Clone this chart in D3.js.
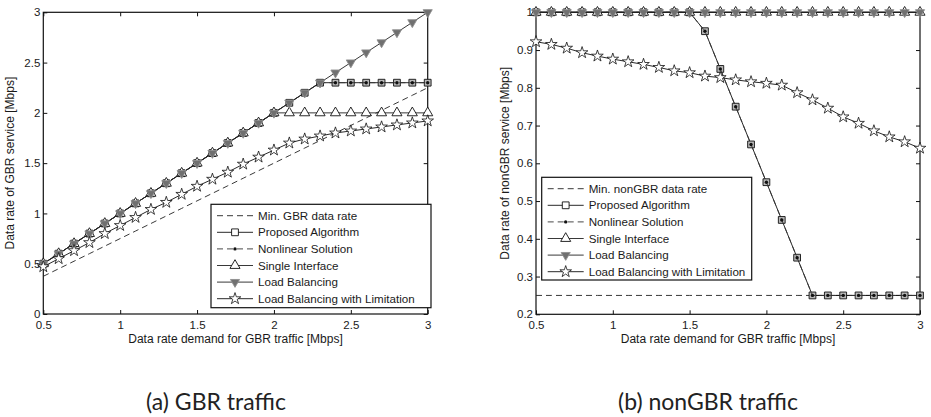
<!DOCTYPE html>
<html>
<head>
<meta charset="utf-8">
<script src="https://cdn.jsdelivr.net/npm/d3@7"></script>
<style>
  html, body { margin: 0; padding: 0; background: #fff; }
  svg { display: block; }
  .tick text { font-family: "Liberation Sans", Arial, sans-serif; font-size: 11.5px; fill: #1a1a1a; }
  .lbl { font-family: "Liberation Sans", Arial, sans-serif; font-size: 12px; fill: #1a1a1a; }
  .leg { font-family: "Liberation Sans", Arial, sans-serif; font-size: 11.6px; fill: #1a1a1a; }
  .cap { font-family: Lato, "Open Sans", sans-serif; font-size: 23px; fill: #222; }
</style>
</head>
<body>
<svg id="fig" width="931" height="417"></svg>
<script>
// GBR traffic demand (x axis of both panels), Mbps
const demand = [0.5, 0.6, 0.7, 0.8, 0.9, 1.0, 1.1, 1.2, 1.3, 1.4, 1.5, 1.6, 1.7,
                1.8, 1.9, 2.0, 2.1, 2.2, 2.3, 2.4, 2.5, 2.6, 2.7, 2.8, 2.9, 3.0];

// (a) data rate of GBR service, Mbps
const gbrMin      = [0.375, 0.45, 0.525, 0.6, 0.675, 0.75, 0.825, 0.9, 0.975, 1.05, 1.125, 1.2, 1.275,
                     1.35, 1.425, 1.5, 1.575, 1.65, 1.725, 1.8, 1.875, 1.95, 2.025, 2.1, 2.175, 2.25];
const gbrProposed = [0.5, 0.6, 0.7, 0.8, 0.9, 1.0, 1.1, 1.2, 1.3, 1.4, 1.5, 1.6, 1.7,
                     1.8, 1.9, 2.0, 2.1, 2.2, 2.3, 2.3, 2.3, 2.3, 2.3, 2.3, 2.3, 2.3];
const gbrNonlinear = [0.5, 0.6, 0.7, 0.8, 0.9, 1.0, 1.1, 1.2, 1.3, 1.4, 1.5, 1.6, 1.7,
                     1.8, 1.9, 2.0, 2.1, 2.2, 2.3, 2.3, 2.3, 2.3, 2.3, 2.3, 2.3, 2.3];
const gbrSingle   = [0.5, 0.6, 0.7, 0.8, 0.9, 1.0, 1.1, 1.2, 1.3, 1.4, 1.5, 1.6, 1.7,
                     1.8, 1.9, 2.0, 2.0, 2.0, 2.0, 2.0, 2.0, 2.0, 2.0, 2.0, 2.0, 2.0];
const gbrLB       = [0.5, 0.6, 0.7, 0.8, 0.9, 1.0, 1.1, 1.2, 1.3, 1.4, 1.5, 1.6, 1.7,
                     1.8, 1.9, 2.0, 2.1, 2.2, 2.3, 2.4, 2.5, 2.6, 2.7, 2.8, 2.9, 3.0];
const gbrLBLimit  = [0.47, 0.55, 0.63, 0.71, 0.80, 0.88, 0.96, 1.04, 1.11, 1.19, 1.27, 1.34, 1.41,
                     1.49, 1.56, 1.63, 1.70, 1.74, 1.77, 1.80, 1.82, 1.84, 1.86, 1.88, 1.90, 1.92];

// (b) data rate of nonGBR service, Mbps
const ngMin       = [0.25, 0.25, 0.25, 0.25, 0.25, 0.25, 0.25, 0.25, 0.25, 0.25, 0.25, 0.25, 0.25,
                     0.25, 0.25, 0.25, 0.25, 0.25, 0.25, 0.25, 0.25, 0.25, 0.25, 0.25, 0.25, 0.25];
const ngProposed  = [1, 1, 1, 1, 1, 1, 1, 1, 1, 1, 1, 0.95, 0.85,
                     0.75, 0.65, 0.55, 0.45, 0.35, 0.25, 0.25, 0.25, 0.25, 0.25, 0.25, 0.25, 0.25];
const ngNonlinear = [1, 1, 1, 1, 1, 1, 1, 1, 1, 1, 1, 0.95, 0.85,
                     0.75, 0.65, 0.55, 0.45, 0.35, 0.25, 0.25, 0.25, 0.25, 0.25, 0.25, 0.25, 0.25];
const ngSingle    = [1, 1, 1, 1, 1, 1, 1, 1, 1, 1, 1, 1, 1,
                     1, 1, 1, 1, 1, 1, 1, 1, 1, 1, 1, 1, 1];
const ngLB        = [1, 1, 1, 1, 1, 1, 1, 1, 1, 1, 1, 1, 1,
                     1, 1, 1, 1, 1, 1, 1, 1, 1, 1, 1, 1, 1];
const ngLBLimit   = [0.922, 0.915, 0.905, 0.893, 0.884, 0.876, 0.869, 0.862, 0.854, 0.845, 0.840, 0.831, 0.827,
                     0.821, 0.816, 0.812, 0.807, 0.787, 0.768, 0.746, 0.723, 0.706, 0.686, 0.670, 0.657, 0.640];

// axis ticks
const xTicks = [0.5, 1, 1.5, 2, 2.5, 3];
const gbrYTicks = [0, 0.5, 1, 1.5, 2, 2.5, 3];
const ngYTicks = [0.2, 0.3, 0.4, 0.5, 0.6, 0.7, 0.8, 0.9, 1];

const legendGBR = ["Min. GBR data rate", "Proposed Algorithm", "Nonlinear Solution",
                   "Single Interface", "Load Balancing", "Load Balancing with Limitation"];
const legendNG  = ["Min. nonGBR data rate", "Proposed Algorithm", "Nonlinear Solution",
                   "Single Interface", "Load Balancing", "Load Balancing with Limitation"];

const svg = d3.select("#fig");
const fmt = v => String(+v.toFixed(2));

// marker painters: draw a marker of a given style into a selection at (x, y)
const markers = {
  none: () => {},
  square: (g, x, y, inLegend) => g.append("path")
      .attr("d", d3.symbol(d3.symbolSquare, 46)())
      .attr("transform", `translate(${x},${y})`)
      .attr("fill", inLegend ? "#fff" : "#b8b8b8").attr("stroke", "#111").attr("stroke-width", 0.9),
  dot: (g, x, y) => g.append("circle").attr("cx", x).attr("cy", y).attr("r", 1.7).attr("fill", "#111"),
  triangle: (g, x, y) => g.append("path")
      .attr("d", d3.symbol(d3.symbolTriangle, 44)())
      .attr("transform", `translate(${x},${y})`)
      .attr("fill", "#fff").attr("stroke", "#111").attr("stroke-width", 0.9),
  invTriangle: (g, x, y) => g.append("path")
      .attr("d", d3.symbol(d3.symbolTriangle, 36)())
      .attr("transform", `translate(${x},${y}) rotate(180)`)
      .attr("fill", "#707070").attr("stroke", "#8e8e8e").attr("stroke-width", 0.9),
  star: (g, x, y) => g.append("path")
      .attr("d", d3.symbol(d3.symbolStar, 42)())
      .attr("transform", `translate(${x},${y})`)
      .attr("fill", "#fff").attr("stroke", "#111").attr("stroke-width", 0.8)
};

const styles = [
  { dash: "6,4", marker: "none", color: "#222" },
  { dash: null,  marker: "square", color: "#111" },
  { dash: "6,4", marker: "dot", color: "#333" },
  { dash: null,  marker: "triangle", color: "#222" },
  { dash: null,  marker: "invTriangle", color: "#222" },
  { dash: null,  marker: "star", color: "#111" }
];

function panel(cfg) {
  const x = d3.scaleLinear().domain([0.5, 3]).range([cfg.left, cfg.right]);
  const y = d3.scaleLinear().domain(cfg.yDomain).range([cfg.bottom, cfg.top]);
  const g = svg.append("g");

  // ticks and labels (inward ticks on all four sides)
  g.append("g").attr("transform", `translate(0,${cfg.bottom})`)
    .call(d3.axisBottom(x).tickValues(xTicks).tickFormat(fmt).tickSizeInner(-4).tickSizeOuter(0).tickPadding(7));
  g.append("g").attr("transform", `translate(0,${cfg.top})`)
    .call(d3.axisTop(x).tickValues(xTicks).tickFormat("").tickSizeInner(-4).tickSizeOuter(0));
  g.append("g").attr("transform", `translate(${cfg.left},0)`)
    .call(d3.axisLeft(y).tickValues(cfg.yTicks).tickFormat(fmt).tickSizeInner(-4).tickSizeOuter(0).tickPadding(3));
  g.append("g").attr("transform", `translate(${cfg.right},0)`)
    .call(d3.axisRight(y).tickValues(cfg.yTicks).tickFormat("").tickSizeInner(-4).tickSizeOuter(0));
  g.selectAll(".domain").remove();
  g.selectAll(".tick line").attr("stroke", "#111");

  // frame
  g.append("rect").attr("x", cfg.left).attr("y", cfg.top)
    .attr("width", cfg.right - cfg.left).attr("height", cfg.bottom - cfg.top)
    .attr("fill", "none").attr("stroke", "#111").attr("stroke-width", 1.2);

  // series
  const line = d3.line().x((d, i) => x(demand[i])).y(d => y(d));
  cfg.series.forEach((vals, k) => {
    const st = styles[k];
    const sg = g.append("g");
    sg.append("path").attr("d", line(vals)).attr("fill", "none")
      .attr("stroke", st.color).attr("stroke-width", 0.9)
      .attr("stroke-dasharray", st.dash);
    vals.forEach((v, i) => markers[st.marker](sg, x(demand[i]), y(v), false));
  });

  // axis titles
  g.append("text").attr("class", "lbl").attr("text-anchor", "middle")
    .attr("x", (cfg.left + cfg.right) / 2).attr("y", cfg.bottom + 29)
    .text("Data rate demand for GBR traffic [Mbps]");
  g.append("text").attr("class", "lbl").attr("text-anchor", "middle")
    .attr("transform", `translate(${cfg.ylabelX},${(cfg.top + cfg.bottom) / 2}) rotate(-90)`)
    .text(cfg.ylabel);

  // legend
  const L = cfg.legend;
  const lg = g.append("g");
  lg.append("rect").attr("x", L.x).attr("y", L.y).attr("width", L.w).attr("height", L.h)
    .attr("fill", "#fff").attr("stroke", "#111").attr("stroke-width", 1.2);
  cfg.names.forEach((name, k) => {
    const st = styles[k];
    const ry = L.y + 11.4 + k * 16.6;
    lg.append("line").attr("x1", L.x + 6).attr("x2", L.x + 42).attr("y1", ry).attr("y2", ry)
      .attr("stroke", st.color).attr("stroke-width", 0.9).attr("stroke-dasharray", st.dash);
    markers[st.marker](lg, L.x + 24, ry, true);
    lg.append("text").attr("class", "leg").attr("x", L.x + 47).attr("y", ry).attr("dy", "0.35em").text(name);
  });

  // caption
  svg.append("text").attr("class", "cap").attr("text-anchor", "middle")
    .attr("x", cfg.capX).attr("y", 410).text(cfg.caption);
}

panel({
  left: 43.3, right: 427.7, top: 12.3, bottom: 314,
  yDomain: [0, 3], yTicks: gbrYTicks,
  series: [gbrMin, gbrProposed, gbrNonlinear, gbrSingle, gbrLB, gbrLBLimit],
  names: legendGBR,
  legend: { x: 211, y: 204.3, w: 220, h: 103.4 },
  ylabel: "Data rate of GBR service [Mbps]", ylabelX: 14,
  caption: "(a) GBR traffic", capX: 216
});

panel({
  left: 536, right: 920, top: 12.3, bottom: 314.3,
  yDomain: [0.2, 1], yTicks: ngYTicks,
  series: [ngMin, ngProposed, ngNonlinear, ngSingle, ngLB, ngLBLimit],
  names: legendNG,
  legend: { x: 541.7, y: 177.3, w: 210, h: 102.7 },
  ylabel: "Data rate of nonGBR service [Mbps]", ylabelX: 509,
  caption: "(b) nonGBR traffic", capX: 708
});
</script>
</body>
</html>
